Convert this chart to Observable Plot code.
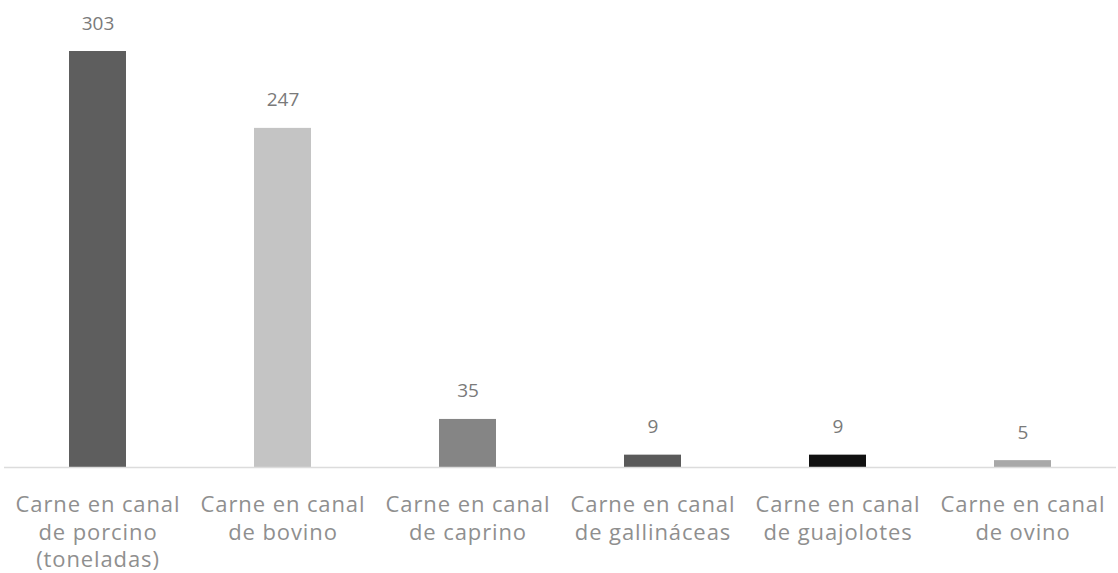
<!DOCTYPE html>
<html>
<head>
<meta charset="utf-8">
<script src="https://cdn.jsdelivr.net/npm/d3@7"></script>
<script src="https://cdn.jsdelivr.net/npm/@observablehq/plot@0.6"></script>
<style>
  html, body { margin: 0; padding: 0; background: #fff; }
  #chart svg { display: block; }
  #chart g[aria-label="x-axis tick label"] text { letter-spacing: 0.9px; }
</style>
</head>
<body>
<div id="chart"></div>
<script>
const categories = [
  "Carne en canal\nde porcino\n(toneladas)",
  "Carne en canal\nde bovino",
  "Carne en canal\nde caprino",
  "Carne en canal\nde gallináceas",
  "Carne en canal\nde guajolotes",
  "Carne en canal\nde ovino"
];
const values = [303, 247, 35, 9, 9, 5];
const colors = ["#5e5e5e", "#c4c4c4", "#858585", "#5a5a5a", "#111111", "#a8a8a8"];

const data = categories.map((c, i) => ({category: c, value: values[i], color: colors[i]}));

const chart = Plot.plot({
  width: 1118,
  height: 573,
  marginLeft: 4,
  marginRight: 2,
  marginTop: 51,
  marginBottom: 106,
  style: {fontFamily: "'Open Sans', sans-serif", background: "#fff"},
  x: {domain: categories, paddingInner: 0.69, paddingOuter: 0.345, label: null},
  y: {domain: [0, 303], axis: null},
  marks: [
    Plot.barY(data, {x: "category", y: "value", fill: "color"}),
    Plot.ruleY([0], {stroke: "#dcdcdc", strokeWidth: 1.5}),
    Plot.text(data, {x: "category", y: "value", text: d => String(d.value), lineAnchor: "bottom", dy: -22, fill: "#7a7a7a", fontSize: 19}),
    Plot.axisX({tickSize: 0, tickPadding: 25, fontSize: 22, lineHeight: 1.25, color: "#8f8f8f", label: null})
  ]
});
document.getElementById("chart").append(chart);
</script>
</body>
</html>
